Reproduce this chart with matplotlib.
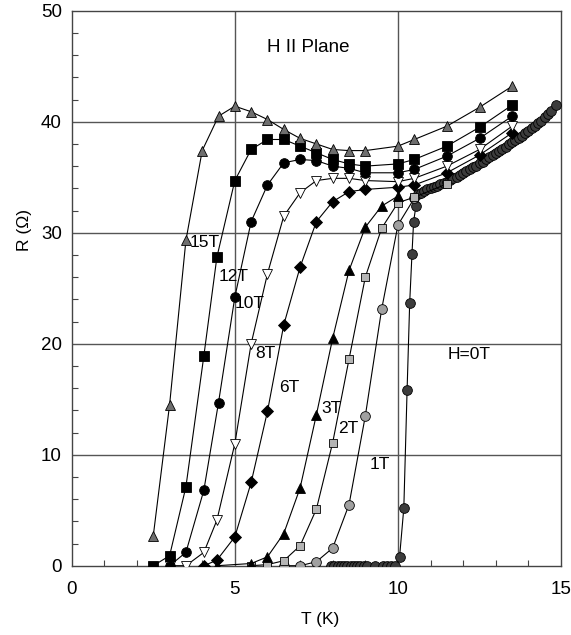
import matplotlib
matplotlib.use('Agg')
import matplotlib.pyplot as plt
from matplotlib.ticker import MultipleLocator

plt.rcParams['font.family'] = ['Liberation Sans', 'DejaVu Sans']

# resistance vs temperature, one curve per field
t_15 = [2.5, 3.0, 3.5, 4.0, 4.5, 5.0, 5.5, 6.0, 6.5, 7.0, 7.5, 8.0, 8.5, 9.0, 10.0, 10.5, 11.5, 12.5, 13.5]
r_15 = [2.7, 14.5, 29.3, 37.4, 40.5, 41.4, 40.9, 40.2, 39.3, 38.5, 38.0, 37.5, 37.4, 37.4, 37.8, 38.4, 39.6, 41.3, 43.2]

t_12 = [2.5, 3.0, 3.5, 4.05, 4.45, 5.0, 5.5, 6.0, 6.5, 7.0, 7.5, 8.0, 8.5, 9.0, 10.0, 10.5, 11.5, 12.5, 13.5]
r_12 = [0.0, 0.9, 7.1, 18.9, 27.8, 34.7, 37.5, 38.4, 38.4, 37.8, 37.2, 36.6, 36.2, 36.0, 36.2, 36.6, 37.8, 39.5, 41.5]

t_10 = [3.0, 3.5, 4.05, 4.5, 5.0, 5.5, 6.0, 6.5, 7.0, 7.5, 8.0, 8.5, 9.0, 10.0, 10.5, 11.5, 12.5, 13.5]
r_10 = [0.0, 1.2, 6.8, 14.7, 24.2, 31.0, 34.3, 36.3, 36.6, 36.5, 36.0, 35.8, 35.4, 35.4, 35.7, 36.9, 38.5, 40.5]

t_8 = [3.0, 3.5, 4.05, 4.45, 5.0, 5.5, 6.0, 6.5, 7.0, 7.5, 8.0, 8.5, 9.0, 10.0, 10.5, 11.5, 12.5, 13.5]
r_8 = [0.0, 0.0, 1.2, 4.1, 11.0, 20.0, 26.3, 31.5, 33.6, 34.7, 34.9, 34.9, 34.7, 34.6, 34.9, 36.0, 37.5, 39.6]

t_6 = [4.05, 4.45, 5.0, 5.5, 6.0, 6.5, 7.0, 7.5, 8.0, 8.5, 9.0, 10.0, 10.5, 11.5, 12.5, 13.5]
r_6 = [0.0, 0.5, 2.6, 7.5, 13.9, 21.7, 26.9, 31.0, 32.8, 33.7, 33.9, 34.1, 34.3, 35.4, 37.0, 39.0]

t_3 = [4.45, 5.5, 6.0, 6.5, 7.0, 7.5, 8.0, 8.5, 9.0, 9.5, 10.0]
r_3 = [0.0, 0.2, 0.8, 2.9, 7.0, 13.6, 20.5, 26.6, 30.5, 32.4, 33.3]

t_2 = [5.5, 6.0, 6.5, 7.0, 7.5, 8.0, 8.5, 9.0, 9.5, 10.0, 10.5, 11.5]
r_2 = [0.0, 0.1, 0.45, 1.8, 5.1, 11.1, 18.6, 26.0, 30.4, 32.7, 33.2, 34.4]

t_1 = [6.5, 7.0, 7.5, 8.0, 8.5, 9.0, 9.5, 10.0, 10.5]
r_1 = [0.0, 0.0, 0.36, 1.6, 5.5, 13.5, 23.1, 30.7, 33.1]

t_0 = [7.95, 8.05, 8.15, 8.25, 8.35, 8.45, 8.55, 8.65, 8.75, 8.85, 8.95, 9.05, 9.3, 9.55,
       9.67, 9.8, 9.92, 10.05, 10.18, 10.28, 10.36, 10.43, 10.48, 10.55,
       10.62, 10.7, 10.8, 10.9, 11.0, 11.1, 11.2, 11.3, 11.4, 11.5, 11.6, 11.7, 11.8, 11.9,
       12.0, 12.1, 12.2, 12.3, 12.4, 12.5, 12.6, 12.7, 12.8, 12.9, 13.0, 13.1, 13.2, 13.3,
       13.4, 13.5, 13.6, 13.7, 13.8, 13.9, 14.0, 14.1, 14.2, 14.3, 14.4, 14.5, 14.6, 14.7, 14.85]
r_0 = [0.0, 0.0, 0.0, 0.0, 0.0, 0.0, 0.0, 0.0, 0.0, 0.0, 0.0, 0.0, 0.0, 0.0,
       0.0, 0.0, 0.0, 0.8, 5.2, 15.8, 23.7, 28.1, 31.0, 32.4,
       33.5, 33.6, 33.75, 33.9, 34.0, 34.1, 34.2, 34.35, 34.5, 34.6, 34.75, 34.9, 35.05, 35.2,
       35.4, 35.55, 35.7, 35.9, 36.05, 36.25, 36.4, 36.6, 36.8, 37.0, 37.2, 37.4, 37.55, 37.75,
       37.95, 38.15, 38.35, 38.55, 38.75, 38.95, 39.2, 39.4, 39.6, 39.85, 40.1, 40.4, 40.7, 41.0, 41.5]

field_labels = ['15T', '12T', '10T', '8T', '6T', '3T', '2T', '1T', 'H=0T']
label_pos = [(3.62, 29.1), (4.49, 26.1), (5.0, 23.6), (5.62, 19.1), (6.35, 16.1),
             (7.66, 14.2), (8.16, 12.4), (9.14, 9.1), (11.53, 19.0)]

fig = plt.figure(figsize=(5.71, 6.35), dpi=100)
ax = fig.add_axes([0.1256, 0.1091, 0.857, 0.874])

# grid lines drawn first so markers sit on top
for yv in [10, 20, 30, 40]:
    ax.axhline(yv, color='#555555', lw=1.0, zorder=1)
for xv in [5, 10]:
    ax.axvline(xv, color='#555555', lw=1.0, zorder=1)

line_kw = dict(color='black', lw=0.8, mec='black', mew=0.6, zorder=3)
# low field first so the high field markers end up on top
ax.plot(t_0, r_0, marker='o', ms=7, mfc='#3c3c3c', **line_kw)
ax.plot(t_1, r_1, marker='o', ms=7, mfc='#a0a0a0', **line_kw)
ax.plot(t_2, r_2, marker='s', ms=6, mfc='#b4b4b4', **line_kw)
ax.plot(t_3, r_3, marker='^', ms=7.5, mfc='black', **line_kw)
ax.plot(t_6, r_6, marker='D', ms=6, mfc='black', **line_kw)
ax.plot(t_8, r_8, marker='v', ms=7.5, mfc='white', **line_kw)
ax.plot(t_10, r_10, marker='o', ms=7, mfc='black', **line_kw)
ax.plot(t_12, r_12, marker='s', ms=6.5, mfc='black', **line_kw)
ax.plot(t_15, r_15, marker='^', ms=7.5, mfc='#6e6e6e', **line_kw)

for lab, (x, y) in zip(field_labels, label_pos):
    ax.text(x, y, lab, fontsize=12.5, ha='left', va='center', zorder=4)
ax.text(7.25, 46.7, 'H II Plane', fontsize=13.5, ha='center', va='center')

ax.set_xlim(0, 15)
ax.set_ylim(0, 50)
ax.xaxis.set_major_locator(MultipleLocator(5))
ax.xaxis.set_minor_locator(MultipleLocator(1))
ax.yaxis.set_major_locator(MultipleLocator(10))
ax.yaxis.set_minor_locator(MultipleLocator(2))
ax.tick_params(which='both', direction='in', top=False, right=False, labelsize=13.5, color='#444444')
ax.tick_params(axis='x', which='both', pad=11)
ax.tick_params(axis='y', which='both', pad=7)
ax.tick_params(which='major', length=0)
ax.tick_params(which='minor', length=4, width=0.8)
for sp in ax.spines.values():
    sp.set_color('#444444')
    sp.set_linewidth(1.0)

ax.set_xlabel('T (K)', fontsize=12.5)
ax.set_ylabel('R (\u03a9)', fontsize=12.5)
ax.xaxis.set_label_coords(0.508, -0.083)
ax.yaxis.set_label_coords(-0.082, 0.605)

plt.savefig('out.png', dpi=100)
